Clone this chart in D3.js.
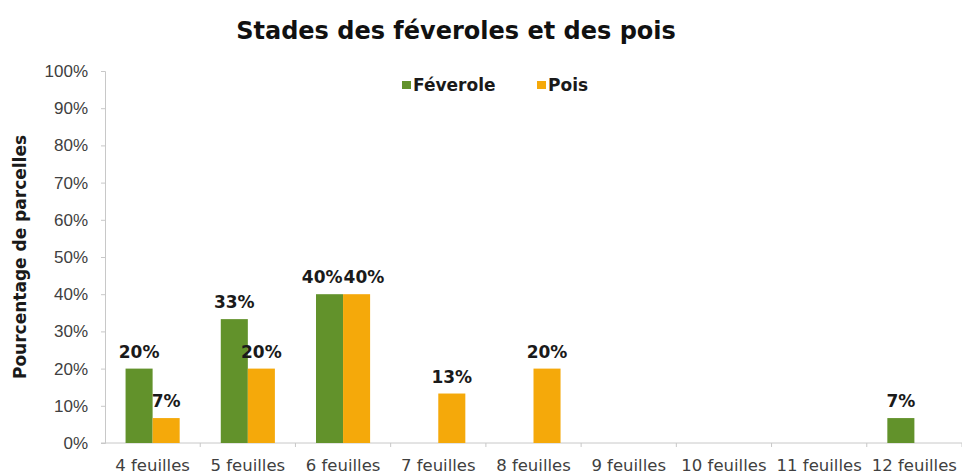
<!DOCTYPE html>
<html>
<head>
<meta charset="utf-8">
<script src="https://cdn.jsdelivr.net/npm/d3@7"></script>
<style>
  body { margin: 0; background: #fff; }
  svg { display: block; font-family: "DejaVu Sans", Verdana, sans-serif; }
</style>
</head>
<body>
<div id="chart"></div>
<script>
'use strict';

// Categories (stades) and series values, in percent of plots
const stades = ["4 feuilles", "5 feuilles", "6 feuilles", "7 feuilles", "8 feuilles",
                "9 feuilles", "10 feuilles", "11 feuilles", "12 feuilles"];
const feverole = [20, 33.3, 40, 0, 0, 0, 0, 0, 6.7];
const pois = [6.7, 20, 40, 13.3, 20, 0, 0, 0, 0];
const seriesNames = ["Féverole", "Pois"];
const seriesColors = ["#62922b", "#f5a90a"];
const yTicks = [0, 10, 20, 30, 40, 50, 60, 70, 80, 90, 100];

const width = 962;
const height = 475;
const margin = {top: 71, right: 0, bottom: 32, left: 105};

const svg = d3.select("#chart").append("svg")
    .attr("width", width)
    .attr("height", height);

// Scales
const x = d3.scaleBand()
    .domain(stades)
    .range([margin.left, width - margin.right])
    .paddingInner(0)
    .paddingOuter(0);

const xSeries = d3.scaleBand()
    .domain(seriesNames)
    .range([0, x.bandwidth()])
    .paddingInner(0)
    .paddingOuter(0.76);

const y = d3.scaleLinear()
    .domain([0, 100])
    .range([height - margin.bottom, margin.top]);

// Y axis
const yAxis = svg.append("g")
    .attr("transform", `translate(${margin.left},0)`)
    .call(d3.axisLeft(y).tickValues(yTicks).tickSize(4).tickPadding(13).tickFormat(d => d + "%"));
yAxis.select(".domain").attr("stroke", "#c8c8c8");
yAxis.selectAll(".tick line").attr("stroke", "#c8c8c8");
yAxis.selectAll("text").attr("fill", "#404040").style("font-size", "17px");

// X axis (ticks between categories)
const xAxisG = svg.append("g")
    .attr("transform", `translate(0,${y(0)})`);
xAxisG.append("line")
    .attr("x1", margin.left - 4).attr("x2", width - margin.right)
    .attr("stroke", "#c8c8c8");
xAxisG.selectAll(".sep")
    .data(stades)
    .join("line")
    .attr("class", "sep")
    .attr("x1", d => x(d) + x.bandwidth())
    .attr("x2", d => x(d) + x.bandwidth())
    .attr("y1", 0).attr("y2", 4)
    .attr("stroke", "#c8c8c8");
xAxisG.selectAll(".lab")
    .data(stades)
    .join("text")
    .attr("class", "lab")
    .attr("x", d => x(d) + x.bandwidth() / 2)
    .attr("y", 28)
    .attr("text-anchor", "middle")
    .attr("fill", "#404040")
    .style("font-size", "16.5px")
    .text(d => d);

// Bars
const rows = stades.map((s, i) => ({stade: s, values: [feverole[i], pois[i]]}));

const groups = svg.selectAll(".grp")
    .data(rows)
    .join("g")
    .attr("class", "grp")
    .attr("transform", d => `translate(${x(d.stade)},0)`);

groups.selectAll("rect")
    .data(d => d.values.map((v, j) => ({name: seriesNames[j], value: v, color: seriesColors[j]})))
    .join("rect")
    .attr("x", d => xSeries(d.name))
    .attr("width", xSeries.bandwidth())
    .attr("y", d => y(d.value))
    .attr("height", d => y(0) - y(d.value))
    .attr("fill", d => d.color);

groups.selectAll("text")
    .data(d => d.values.map((v, j) => ({name: seriesNames[j], value: v})).filter(d => d.value > 0))
    .join("text")
    .attr("x", d => xSeries(d.name) + xSeries.bandwidth() / 2)
    .attr("y", d => y(d.value) - 11)
    .attr("text-anchor", "middle")
    .attr("fill", "#1a1a1a")
    .style("font-size", "17px")
    .style("font-weight", "bold")
    .text(d => Math.round(d.value) + "%");

// Push apart labels on the same height that would collide (like Excel does)
groups.each(function() {
  const labels = d3.select(this).selectAll("text").nodes();
  if (labels.length < 2) return;
  const [a, b] = labels;
  if (a.getAttribute("y") !== b.getAttribute("y")) return;
  const ba = a.getBBox(), bb = b.getBBox();
  const overlap = (ba.x + ba.width) - bb.x;
  if (overlap > -1) {
    const shift = (overlap + 1) / 2;
    a.setAttribute("x", +a.getAttribute("x") - shift);
    b.setAttribute("x", +b.getAttribute("x") + shift);
  }
});

// Title
svg.append("text")
    .attr("x", 456)
    .attr("y", 39)
    .attr("text-anchor", "middle")
    .attr("fill", "#111")
    .style("font-size", "24px")
    .style("font-weight", "bold")
    .text("Stades des féveroles et des pois");

// Y axis title
svg.append("text")
    .attr("transform", `translate(26,${(y(0) + y(100)) / 2}) rotate(-90)`)
    .attr("text-anchor", "middle")
    .attr("fill", "#1a1a1a")
    .style("font-size", "17px")
    .style("font-weight", "bold")
    .text("Pourcentage de parcelles");

// Legend
const legendX = [402, 537];
const legend = svg.selectAll(".leg")
    .data(seriesNames)
    .join("g")
    .attr("class", "leg")
    .attr("transform", (d, i) => `translate(${legendX[i]},91)`);
legend.append("rect")
    .attr("x", 0).attr("y", -10)
    .attr("width", 9).attr("height", 8)
    .attr("fill", (d, i) => seriesColors[i]);
legend.append("text")
    .attr("x", 11).attr("y", 0)
    .attr("fill", "#1a1a1a")
    .style("font-size", "17px")
    .style("font-weight", "bold")
    .text(d => d);
</script>
</body>
</html>
